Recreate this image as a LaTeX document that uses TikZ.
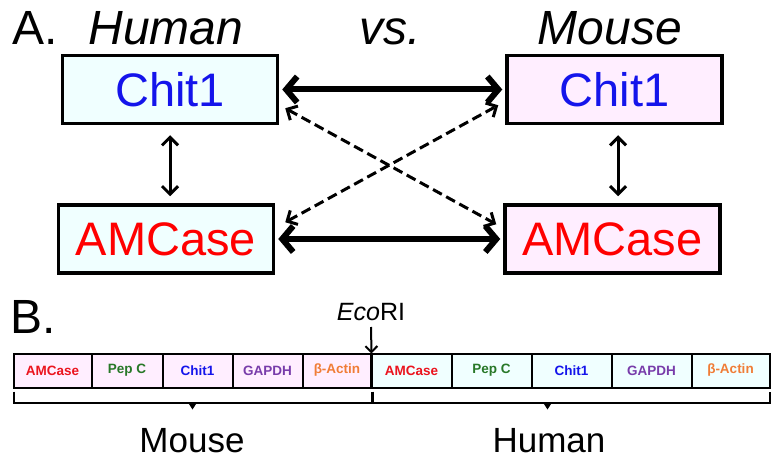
\documentclass[tikz,border=0pt]{standalone}
\usepackage{fontspec}
\setmainfont{Liberation Sans}
\usetikzlibrary{arrows.meta,positioning,calc}

\definecolor{hcyan}{RGB}{240,255,255}
\definecolor{mpink}{RGB}{255,238,255}
\definecolor{amcred}{RGB}{235,20,30}
\definecolor{pepgreen}{RGB}{40,120,40}
\definecolor{chitblue}{RGB}{20,20,235}
\definecolor{gapurple}{RGB}{120,60,170}
\definecolor{actorange}{RGB}{240,125,55}

\tikzset{
  genebox/.style={draw, line width=3.5pt, minimum width=215pt, minimum height=68pt,
    inner sep=0pt, font=\fontsize{47}{50}\selectfont},
  bigtitle/.style={anchor=base, font=\fontsize{48}{52}\selectfont},
  cell/.style={draw, line width=2pt, minimum height=34pt, inner sep=0pt, outer sep=0pt,
    font=\fontsize{13.5}{15}\selectfont\bfseries},
  mcell/.style={cell, fill=mpink},
  hcell/.style={cell, fill=hcyan},
  bigarrow/.style={line width=6pt, {Straight Barb[length=11pt,width=26pt]}-{Straight Barb[length=11pt,width=26pt]}},
  thinarrow/.style={line width=3pt, {Straight Barb[length=8pt,width=16pt]}-{Straight Barb[length=8pt,width=16pt]}},
  dasharrow/.style={line width=3pt, dash pattern=on 10pt off 5pt, {Straight Barb[length=8pt,width=16pt]}-{Straight Barb[length=8pt,width=16pt]}},
  brk/.style={line width=2pt},
}

\begin{document}
\begin{tikzpicture}[x=1pt, y=-1pt]
  \useasboundingbox (0,0) rectangle (781,462);

  % part A
  \node[bigtitle, anchor=base west] (lblA) at (9,45) {A.};
  \node[bigtitle] (ttlH) at (166,45) {\itshape Human};
  \node[bigtitle] (ttlV) at (390,45) {\itshape vs.};
  \node[bigtitle] (ttlM) at (610,45) {\itshape Mouse};

  \node[genebox, fill=hcyan, text=chitblue] (hChit) at (170,89.5) {Chit1};
  \node[genebox, fill=mpink, text=chitblue] (mChit) at (614.5,89.5) {Chit1};
  \node[genebox, fill=hcyan, text=red] (hAMC) at (166,239) {AMCase};
  \node[genebox, fill=mpink, text=red] (mAMC) at (612.5,239) {AMCase};

  \draw[bigarrow, shorten <=3pt, shorten >=3pt] (hChit) -- (mChit);
  \draw[bigarrow, shorten <=3pt, shorten >=3pt] (hAMC) -- (mAMC);
  \coordinate (hTop) at ([shift={(0,10)}]hChit.south);
  \coordinate (mTop) at ([shift={(3.5,10)}]mChit.south);
  \draw[thinarrow] (hTop) -- ([yshift=7pt]hTop |- hAMC.north);
  \draw[thinarrow] (mTop) -- ([yshift=7pt]mTop |- mAMC.north);
  \draw[dasharrow] ([shift={(6,-17)}]hChit.south east) -- ([shift={(-7,21)}]mAMC.north west);
  \draw[dasharrow] ([shift={(10,19)}]hAMC.north east) -- ([shift={(-7,-20)}]mChit.south west);

  % part B
  \node[bigtitle, anchor=base west] (lblB) at (7,333) {B.};

  \node[mcell, anchor=west, minimum width=78pt, text=amcred] (m1) at (13.5,370.5) {AMCase};
  \node[mcell, right=0pt of m1, minimum width=71pt, text=pepgreen] (m2) {Pep C};
  \node[mcell, right=0pt of m2, minimum width=70pt, text=chitblue] (m3) {Chit1};
  \node[mcell, right=0pt of m3, minimum width=70pt, text=gapurple] (m4) {GAPDH};
  \node[mcell, right=0pt of m4, minimum width=69pt, text=actorange] (m5) {β-Actin};
  \node[hcell, right=0pt of m5, minimum width=80pt, text=amcred] (h1) {AMCase};
  \node[hcell, right=0pt of h1, minimum width=80pt, text=pepgreen] (h2) {Pep C};
  \node[hcell, right=0pt of h2, minimum width=80pt, text=chitblue] (h3) {Chit1};
  \node[hcell, right=0pt of h3, minimum width=80pt, text=gapurple] (h4) {GAPDH};
  \node[hcell, right=0pt of h4, minimum width=78pt, text=actorange] (h5) {β-Actin};
  \draw[line width=3.5pt] (m5.north east) -- (m5.south east);

  \node[anchor=base, font=\fontsize{25}{28}\selectfont] (eco) at (371,320) {\itshape Eco\upshape RI};
  \draw[line width=2pt, -{Straight Barb[length=6pt,width=12pt]}] ([shift={(0,7)}]eco.base) -- (m5.north east);

  % brackets
  \draw[brk] ([shift={(0,4)}]m1.south west) -- ([shift={(0,15)}]m1.south west)
    -- ([shift={(0,15)}]m5.south east) -- ([shift={(0,4)}]m5.south east);
  \draw[brk] ([shift={(1.5,4)}]h1.south west) -- ([shift={(1.5,15)}]h1.south west)
    -- ([shift={(0,15)}]h5.south east) -- ([shift={(0,4)}]h5.south east);
  \coordinate (mtick) at ($([shift={(0,15)}]m1.south west)!0.5!([shift={(0,15)}]m5.south east)$);
  \coordinate (htick) at ([shift={(16,15)}]h3.south west);
  \fill (mtick) ++(-4.5,0) -- ++(9,0) -- ++(-4.5,7) -- cycle;
  \fill (htick) ++(-4.5,0) -- ++(9,0) -- ++(-4.5,7) -- cycle;

  \node[anchor=base, font=\fontsize{35}{38}\selectfont] (mLbl) at (192,452) {Mouse};
  \node[anchor=base, font=\fontsize{35}{38}\selectfont] (hLbl) at (549,452) {Human};
\end{tikzpicture}
\end{document}
